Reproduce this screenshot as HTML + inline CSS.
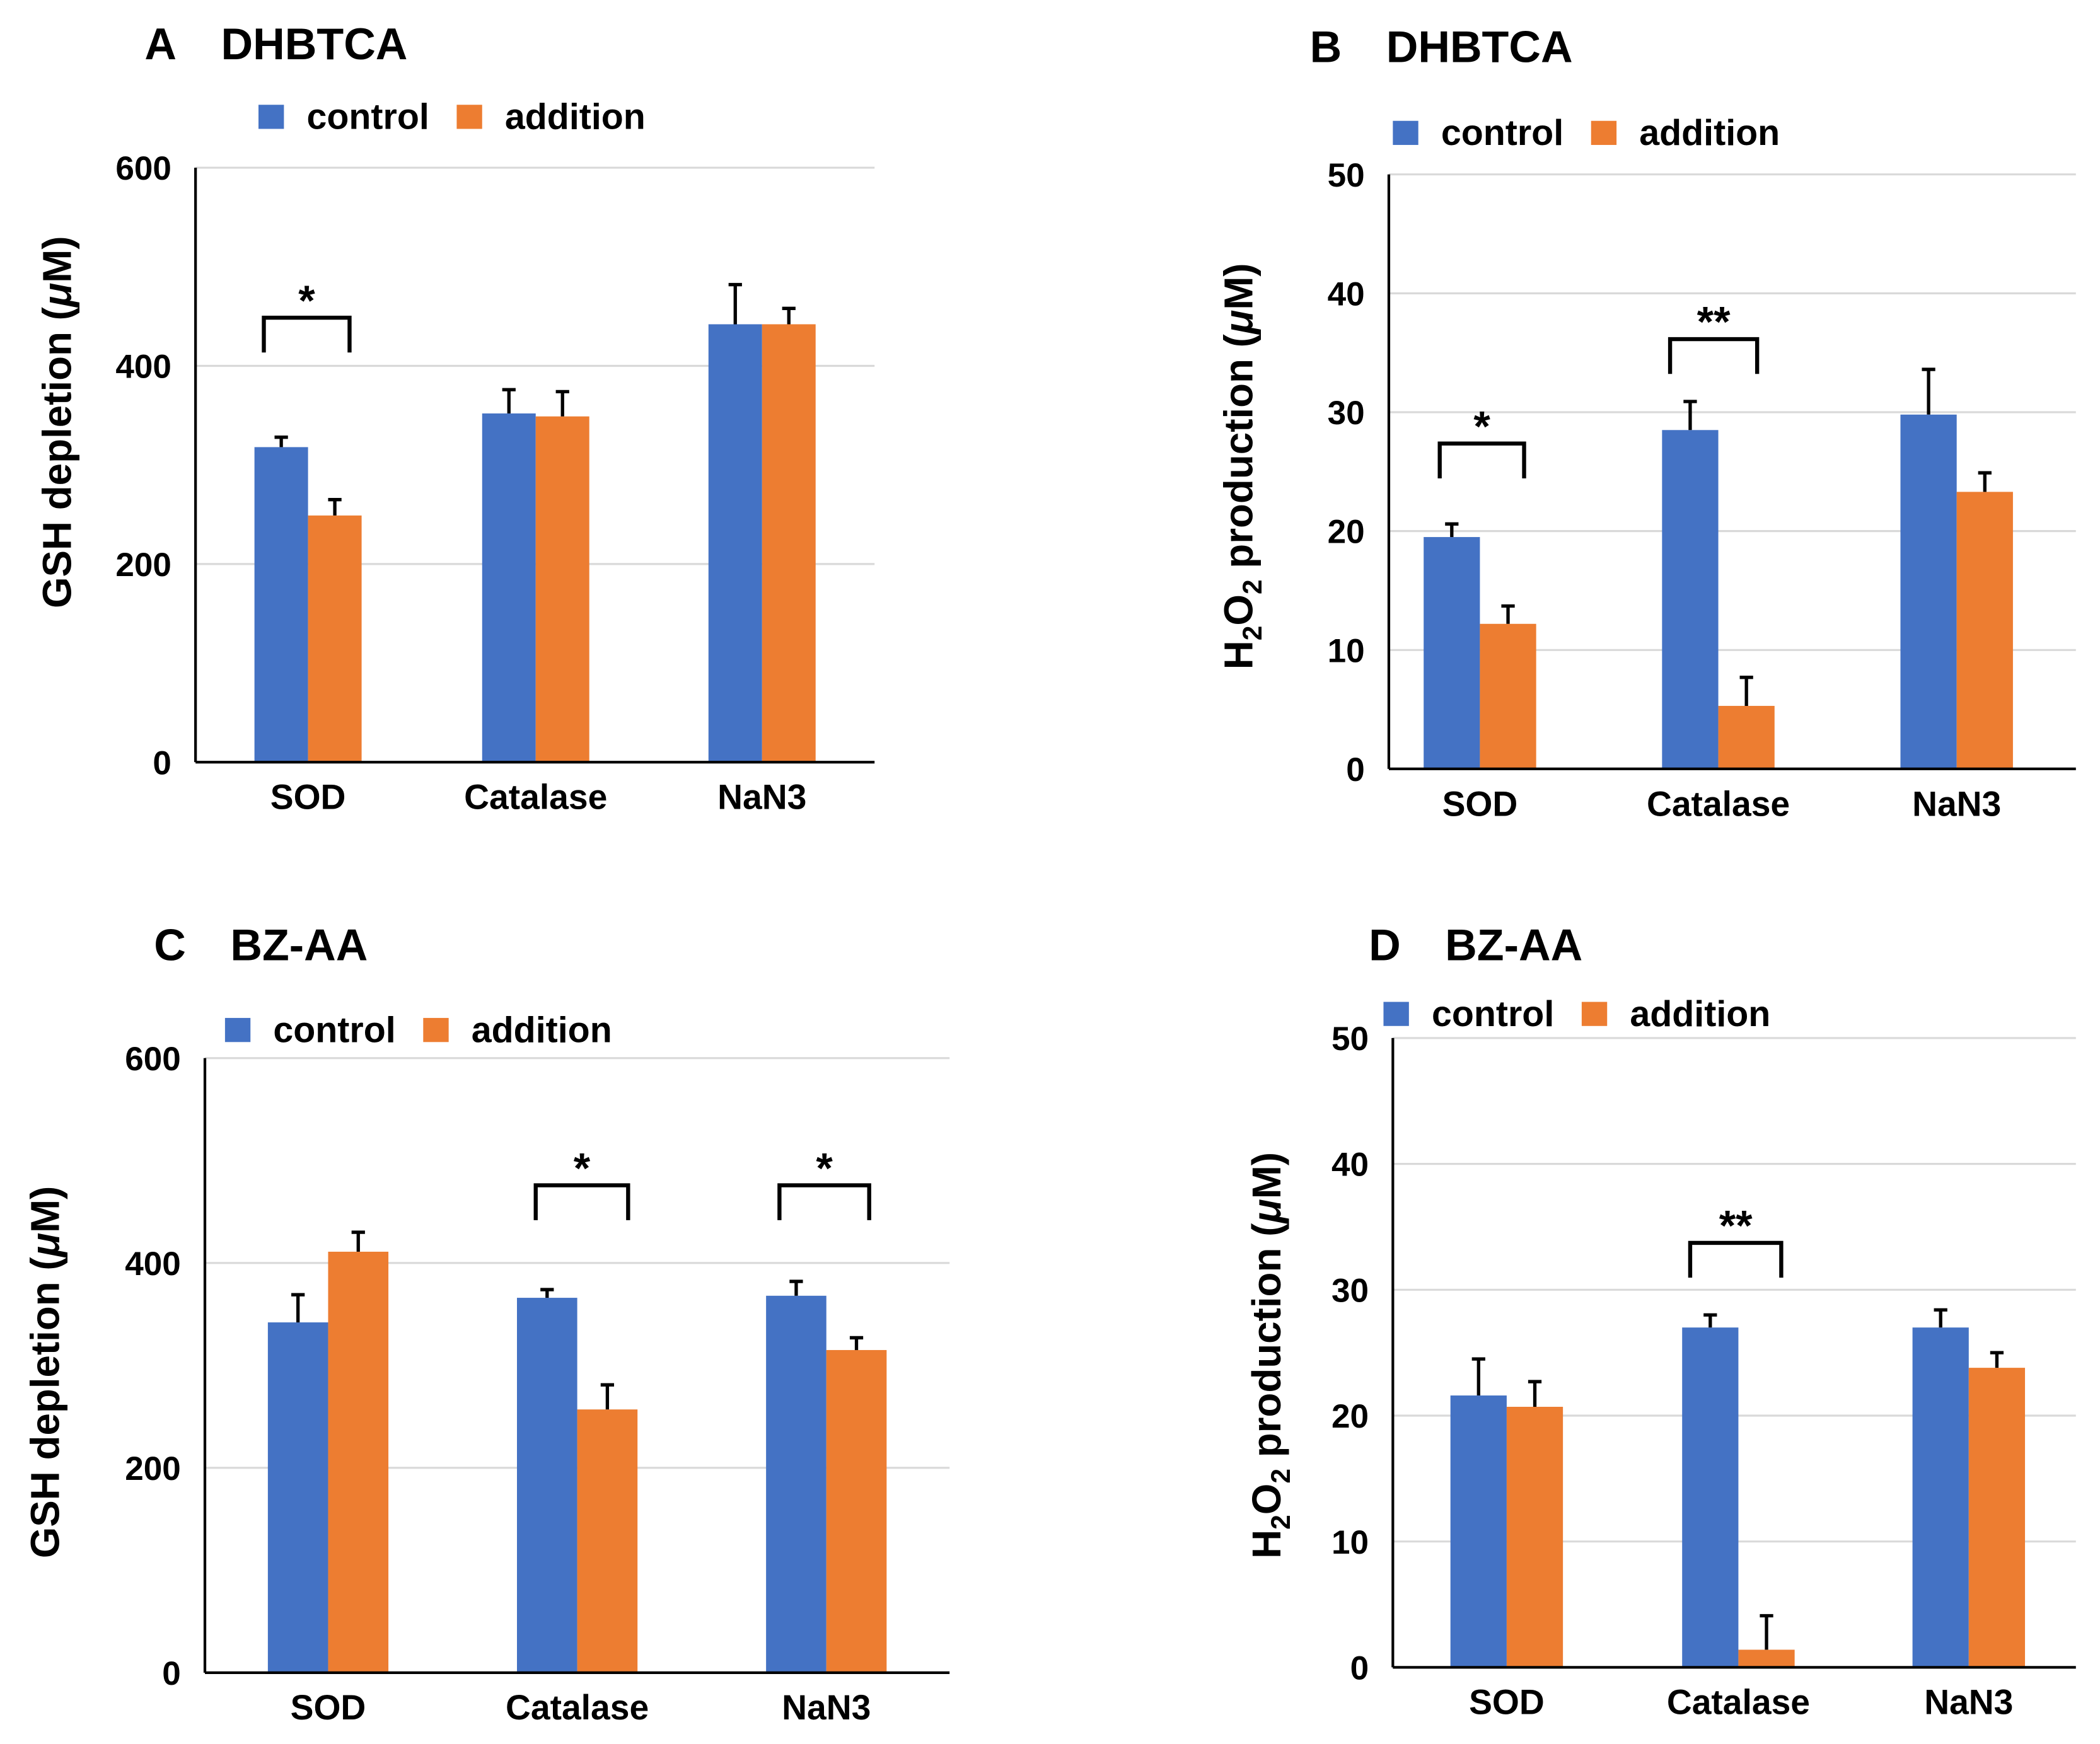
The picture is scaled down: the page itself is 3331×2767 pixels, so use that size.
<!DOCTYPE html>
<html><head><meta charset="utf-8"><style>
html,body{margin:0;padding:0;background:#fff;}
svg{display:block;}
text{font-family:"Liberation Sans",Arial,sans-serif;font-weight:bold;fill:#000;}
</style></head><body>
<svg id="fig" width="3331" height="2767" viewBox="0 0 1568 1302" xmlns="http://www.w3.org/2000/svg"></svg>
<script>
const categories = ["SOD","Catalase","NaN3"];
const aControl = [318,352,442], aAddition = [249,349,442], aControlErr = [10,24,40], aAdditionErr = [16,25,16];
const bControl = [19.5,28.5,29.8], bAddition = [12.2,5.3,23.3], bControlErr = [1.1,2.4,3.8], bAdditionErr = [1.5,2.4,1.6];
const cControl = [342,366,368], cAddition = [411,257,315], cControlErr = [27,8,14], cAdditionErr = [19,24,12];
const dControl = [21.6,27,27], dAddition = [20.7,1.4,23.8], dControlErr = [2.9,1,1.4], dAdditionErr = [2,2.7,1.2];
const ticksGSH = [0,200,400,600];
const ticksH2O2 = [0,10,20,30,40,50];

const NS="http://www.w3.org/2000/svg";
const svg=document.getElementById('fig');
function mk(tag,attrs,parent,txt){const e=document.createElementNS(NS,tag);for(const k in attrs)e.setAttribute(k,attrs[k]);if(txt!==undefined)e.textContent=txt;(parent||svg).appendChild(e);return e;}

function panel(p){
  const g=mk('g',{});
  
  
  const y=v=>p.y0-(v/p.max)*(p.y0-p.yTop);
  p.ticks.forEach(t=>{
    if(t>0){const gl=mk('line',{x1:p.x0,x2:p.x1,y1:y(t),y2:y(t),stroke:'#d9d9d9','stroke-width':1.5},g);
      }
    const tl=mk('text',{x:p.x0-18,y:y(t)+9,'text-anchor':'end','font-size':25},g,String(t));
    
  });
  categories.forEach((c,i)=>{
    const cx=p.cx[i];
    [[p.ctrl,p.ctrlE,'#4472c4',-1],[p.add,p.addE,'#ed7d31',0]].forEach(([vals,errs,col,off])=>{
      const bx=cx+off*p.bw;
      const r=mk('rect',{x:bx,y:y(vals[i]),width:p.bw,height:p.y0-y(vals[i]),fill:col},g);
      
      
      const ex=bx+p.bw/2, et=y(vals[i]+errs[i]);
      const e1=mk('line',{x1:ex,x2:ex,y1:y(vals[i]),y2:et,stroke:'#000','stroke-width':2.5},g);
      
      const e2=mk('line',{x1:ex-5,x2:ex+5,y1:et,y2:et,stroke:'#000','stroke-width':2.5},g);
      
    });
    const xl=mk('text',{x:cx,y:p.y0+35,'text-anchor':'middle','font-size':26},g,c);
    
  });
  const ya=mk('line',{x1:p.x0,x2:p.x0,y1:p.yTop,y2:p.y0,stroke:'#000','stroke-width':2},g);
  
  const xa=mk('line',{x1:p.x0,x2:p.x1,y1:p.y0,y2:p.y0,stroke:'#000','stroke-width':2},g);
  
  p.brackets.forEach(b=>{
    const pl=mk('polyline',{points:`${b[0]},${b[2]+26} ${b[0]},${b[2]} ${b[1]},${b[2]} ${b[1]},${b[2]+26}`,fill:'none',stroke:'#000','stroke-width':3},g);
    
    const st=mk('text',{x:(b[0]+b[1])/2,y:b[2]-2,'text-anchor':'middle','font-size':32},g,b[3]);
    
  });
  const tA=mk('text',{x:p.tx,y:p.ty,'font-size':33},g,p.id);
  
  const tB=mk('text',{x:p.tx+57,y:p.ty,'font-size':33},g,p.title);
  
  const lg=mk('g',{},g);
  
  const r1=mk('rect',{x:p.lx,y:p.ly-16,width:19,height:18,fill:'#4472c4'},lg);
  
  const l1=mk('text',{x:p.lx+36,y:p.ly+2,'font-size':27},lg,'control');
  
  const r2=mk('rect',{x:p.lx+148,y:p.ly-16,width:19,height:18,fill:'#ed7d31'},lg);
  
  const l2=mk('text',{x:p.lx+184,y:p.ly+2,'font-size':27},lg,'addition');
  
  const yt=mk('text',{transform:`translate(${p.ytx},${(p.y0+p.yTop)/2+p.ytoff}) rotate(-90)`,'text-anchor':'middle','font-size':30},g);
  
  if(p.h2o2){
    mk('tspan',{},yt,'H');mk('tspan',{'font-size':20,dy:7},yt,'2');mk('tspan',{dy:-7},yt,'O');
    mk('tspan',{'font-size':20,dy:7},yt,'2');mk('tspan',{dy:-7},yt,' production (');
    mk('tspan',{'font-style':'italic'},yt,'μ');mk('tspan',{},yt,'M)');
  } else {
    mk('tspan',{},yt,'GSH depletion (');mk('tspan',{'font-style':'italic'},yt,'μ');mk('tspan',{},yt,'M)');
  }
}

panel({id:'A',title:'DHBTCA',tx:108,ty:44,lx:193,ly:94,x0:146,x1:653,y0:569,yTop:125,max:600,ticks:ticksGSH,
  cx:[230,400,569],bw:40,ctrl:aControl,add:aAddition,ctrlE:aControlErr,addE:aAdditionErr,
  brackets:[[197,261,237,'*']],ytx:53,ytoff:-32,h2o2:false});
panel({id:'B',title:'DHBTCA',tx:978,ty:46,lx:1040,ly:106,x0:1037,x1:1550,y0:574,yTop:130,max:50,ticks:ticksH2O2,
  cx:[1105,1283,1461],bw:42,ctrl:bControl,add:bAddition,ctrlE:bControlErr,addE:bAdditionErr,
  brackets:[[1075,1138,331,'*'],[1247,1312,253,'**']],ytx:935,ytoff:-4,h2o2:true});
panel({id:'C',title:'BZ-AA',tx:115,ty:717,lx:168,ly:776,x0:153,x1:709,y0:1249,yTop:790,max:600,ticks:ticksGSH,
  cx:[245,431,617],bw:45,ctrl:cControl,add:cAddition,ctrlE:cControlErr,addE:cAdditionErr,
  brackets:[[400,469,885,'*'],[582,649,885,'*']],ytx:44,ytoff:5,h2o2:false});
panel({id:'D',title:'BZ-AA',tx:1022,ty:717,lx:1033,ly:764,x0:1040,x1:1550,y0:1245,yTop:775,max:50,ticks:ticksH2O2,
  cx:[1125,1298,1470],bw:42,ctrl:dControl,add:dAddition,ctrlE:dControlErr,addE:dAdditionErr,
  brackets:[[1262,1330,928,'**']],ytx:956,ytoff:2,h2o2:true});
</script>
</body></html>
